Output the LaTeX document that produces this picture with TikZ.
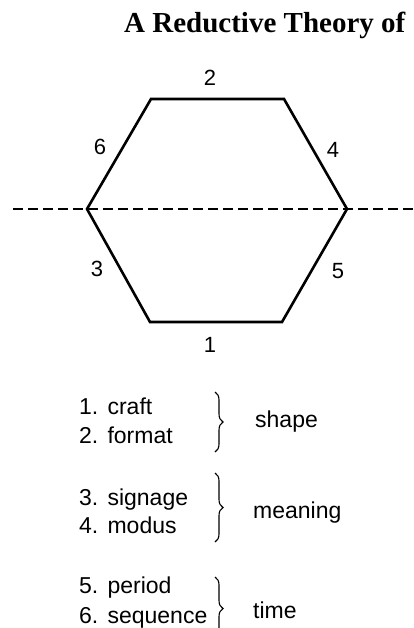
\documentclass[tikz,border=0pt]{standalone}
\usepackage{fontspec}
\setmainfont{Liberation Serif}
\setsansfont{Liberation Sans}
\usepackage{tikz}
\usetikzlibrary{positioning, decorations.pathreplacing}

\begin{document}
\begin{tikzpicture}[
          x=1pt, y=-1pt,
          font=\sffamily\fontsize{23}{27}\selectfont,
          edge/.style={line width=2.6pt, line join=miter},
          axis/.style={dash pattern=on 10pt off 5pt, line width=1.2pt},
          num/.style={inner sep=0pt, font=\sffamily\fontsize{22}{26}\selectfont},
          item/.style={anchor=base west, inner sep=0pt},
          grp/.style={decorate, decoration={brace, amplitude=8pt}, line width=1.1pt},
          kind/.style={anchor=west, inner sep=0pt}]
        \useasboundingbox (0,0) rectangle (414,628);
        % title
        \node[anchor=base west, inner sep=0pt, font=\rmfamily\bfseries\fontsize{29}{32}\selectfont] (title) at (124,33) {A Reductive Theory of};
        % hexagon
        \coordinate (tl) at (151,99);  \coordinate (tr) at (284,99);
        \coordinate (r) at (347,209);  \coordinate (br) at (282,322);
        \coordinate (bl) at (150,322); \coordinate (l) at (87,209);
        \coordinate (axl) at (13,209); \coordinate (axr) at (414,209);
        \draw[axis] (axl) -- (axr);
        \draw[edge] (tl) -- (tr) -- (r) -- (br) -- (bl) -- (l) -- cycle;
        \node[num] (s2) at (210,78) {2};
        \node[num] (s6) at (100,147) {6};
        \node[num] (s4) at (333,150) {4};
        \node[num] (s3) at (97,269) {3};
        \node[num] (s5) at (338,271) {5};
        \node[num] (s1) at (210,345) {1};
        % legend
        \node[item] (i1) at (79,414) {1.\hspace{0.4em}craft};
        \node[item] (i2) at (79,443) {2.\hspace{0.4em}format};
        \node[item] (i3) at (79,505) {3.\hspace{0.4em}signage};
        \node[item] (i4) at (79,533) {4.\hspace{0.4em}modus};
        \node[item] (i5) at (79,593) {5.\hspace{0.4em}period};
        \node[item] (i6) at (79,623) {6.\hspace{0.4em}sequence};
        \coordinate (b1t) at (215,392); \coordinate (b1b) at (215,452);
        \coordinate (b2t) at (215,473); \coordinate (b2b) at (215,542);
        \coordinate (b3t) at (215,577); \coordinate (b3b) at (215,640);
        \draw[grp] (b1t) -- (b1b);
        \draw[grp] (b2t) -- (b2b);
        \draw[grp] (b3t) -- (b3b);
        \node[kind] (g1) at (255,422) {shape};
        \node[kind] (g2) at (253,513) {meaning};
        \node[kind] (g3) at (253,610) {time};
      \end{tikzpicture}
\end{document}
